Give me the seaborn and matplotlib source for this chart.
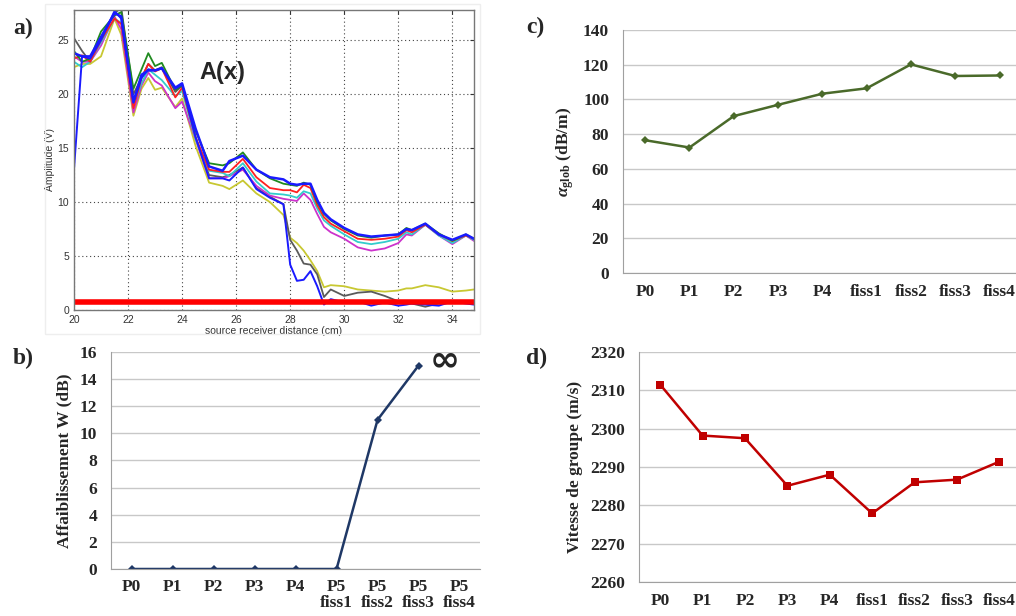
import numpy as np
import pandas as pd
import matplotlib
matplotlib.use('Agg')
import matplotlib.pyplot as plt
import seaborn as sns
from matplotlib.patches import Rectangle

# ---- panel a) : amplitude vs source-receiver distance ----
dist_cm = [20.0, 20.3, 20.6, 21.0, 21.5, 21.75, 22.2, 22.5, 22.75, 23.0,
           23.25, 23.75, 24.0, 24.5, 25.0, 25.5, 25.75, 26.25, 26.75, 27.25,
           27.75, 28.0, 28.25, 28.5, 28.75, 29.0, 29.25, 29.5, 30.0, 30.5,
           31.0, 31.5, 32.0, 32.3, 32.5, 33.0, 33.5, 34.0, 34.5, 34.8]

amp_green = [24.0, 23.0, 23.3, 25.8, 27.3, 27.6, 20.5, 22.3, 23.8, 22.6,
             22.9, 20.4, 20.8, 16.6, 13.6, 13.4, 13.6, 14.6, 13.0, 12.2,
             11.7, 11.6, 11.5, 11.8, 11.6, 10.0, 8.9, 8.3, 7.5, 6.9,
             6.7, 6.9, 7.0, 7.6, 7.4, 8.0, 7.1, 6.4, 7.0, 6.6]
amp_blue = [23.8, 23.5, 23.5, 25.3, 27.5, 27.2, 19.3, 21.8, 22.2, 22.2,
            22.4, 20.6, 21.0, 16.8, 13.3, 12.9, 13.8, 14.3, 13.0, 12.3,
            12.1, 11.7, 11.6, 11.7, 11.7, 10.2, 9.0, 8.4, 7.6, 7.0,
            6.8, 6.9, 7.0, 7.5, 7.4, 8.0, 7.0, 6.5, 7.0, 6.6]
amp_red = [23.3, 23.6, 23.0, 25.0, 27.0, 26.5, 18.7, 21.5, 22.8, 22.1,
           22.4, 19.7, 20.6, 16.0, 13.0, 12.8, 12.8, 14.0, 12.3, 11.3,
           11.1, 11.1, 10.9, 11.6, 11.3, 9.7, 8.6, 8.0, 7.3, 6.6,
           6.5, 6.6, 6.8, 7.4, 7.2, 7.9, 7.0, 6.4, 6.9, 6.6]
amp_cyan = [23.0, 22.5, 23.0, 24.8, 27.0, 26.6, 18.9, 21.0, 22.3, 21.8,
            21.3, 19.8, 20.3, 15.8, 12.9, 12.7, 12.4, 13.6, 11.9, 10.8,
            10.7, 10.6, 10.4, 11.0, 10.8, 9.4, 8.3, 7.8, 7.0, 6.3,
            6.1, 6.3, 6.6, 7.2, 7.0, 7.9, 6.9, 6.2, 6.9, 6.5]
amp_magenta = [23.5, 23.0, 23.0, 24.5, 27.2, 26.0, 18.3, 20.8, 22.0, 21.2,
               20.8, 18.7, 19.3, 15.8, 12.2, 12.2, 12.4, 13.0, 11.5, 10.6,
               10.3, 10.2, 10.1, 10.8, 10.2, 8.9, 7.7, 7.2, 6.6, 5.8,
               5.5, 5.7, 6.2, 7.0, 6.9, 7.9, 6.9, 6.1, 6.9, 6.4]
amp_yellow = [22.5, 22.8, 22.8, 23.5, 27.0, 25.5, 18.0, 20.5, 21.5, 20.4,
              20.6, 18.8, 19.6, 15.2, 11.8, 11.5, 11.2, 12.0, 10.8, 10.0,
              8.8, 6.7, 6.2, 5.5, 4.6, 3.6, 2.1, 2.3, 2.2, 1.9,
              1.8, 1.7, 1.8, 2.0, 2.0, 2.3, 2.1, 1.7, 1.8, 1.9]
amp_gray = [25.2, 24.0, 23.0, 25.0, 27.5, 28.0, 20.0, 21.5, 22.8, 22.2,
            22.5, 20.2, 20.8, 16.0, 12.5, 12.3, 12.5, 13.2, 11.3, 10.5,
            9.8, 6.5, 5.5, 4.3, 4.2, 3.3, 1.2, 1.9, 1.3, 1.6,
            1.7, 1.3, 0.8, 0.7, 0.6, 0.3, 0.6, 0.8, 0.8, 0.8]
amp_blue_drop = [13.0, 23.5, 23.3, 25.0, 27.7, 27.0, 19.2, 21.5, 22.3, 22.2,
                 22.4, 20.5, 20.9, 16.0, 12.2, 12.2, 12.0, 13.2, 11.2, 10.4,
                 9.8, 4.2, 2.7, 2.8, 3.6, 2.2, 0.5, 1.0, 0.7, 0.8,
                 0.4, 0.7, 0.4, 0.5, 0.6, 0.5, 0.4, 0.8, 0.6, 0.5]
threshold_v = 0.75

# ---- panels b), c), d) ----
states = ['P0', 'P1', 'P2', 'P3', 'P4', 'fiss1', 'fiss2', 'fiss3', 'fiss4']
states_b = ['P0', 'P1', 'P2', 'P3', 'P4', 'P5\nfiss1', 'P5\nfiss2', 'P5\nfiss3', 'P5\nfiss4']
affaib_w = [0, 0, 0, 0, 0, 0, 11.0, 15.0, np.nan]
alpha_glob = [76.5, 72.3, 90.4, 96.9, 103.3, 106.4, 120.2, 113.5, 113.8]
vitesse = [2311.5, 2298.2, 2297.5, 2285.1, 2288.0, 2277.9, 2286.0, 2286.7, 2291.4]

sns.set_style('white')
plt.rcParams['font.family'] = ['Liberation Serif', 'DejaVu Serif']
plt.rcParams['mathtext.fontset'] = 'custom'
plt.rcParams['mathtext.rm'] = 'Liberation Serif:bold'
plt.rcParams['mathtext.bf'] = 'Liberation Serif:bold'
plt.rcParams['mathtext.it'] = 'Liberation Serif:italic:bold'

fig = plt.figure(figsize=(10.16, 6.16), dpi=100)

# ---------- a) ----------
# light frame around the matlab-style figure
fig.patches.append(Rectangle((0.044, 0.458), 0.428, 0.535, transform=fig.transFigure,
                             fill=False, edgecolor='#eeeeee', linewidth=1))
ax_a = fig.add_axes([0.0728, 0.4968, 0.3937, 0.487])
curves = [
    (amp_yellow, '#c8c832', 1.3),
    (amp_gray, '#5a5a5a', 1.3),
    (amp_magenta, '#cc33cc', 1.3),
    (amp_cyan, '#33cccc', 1.3),
    (amp_red, '#ff2020', 1.3),
    (amp_green, '#1f8a1f', 1.3),
    (amp_blue_drop, '#1a1aff', 1.4),
    (amp_blue, '#1a1aff', 1.8),
]
for vals, col, lw in curves:
    sns.lineplot(x=dist_cm, y=vals, ax=ax_a, color=col, linewidth=lw,
                 estimator=None, sort=False)
ax_a.axhline(threshold_v, color='#ff0000', linewidth=4)
ax_a.set_xlim(20, 34.8)
ax_a.set_ylim(0, 27.8)
ax_a.set_xticks(np.arange(20, 35, 2))
ax_a.set_yticks(np.arange(0, 26, 5))
ax_a.grid(True, color='#444444', linestyle=(0, (1, 2.5)), linewidth=0.8)
ax_a.tick_params(labelsize=7.5, colors='#333333', direction='in', length=3,
                 top=True, right=True)
for lab in ax_a.get_xticklabels() + ax_a.get_yticklabels():
    lab.set_family('Liberation Sans')
for sp in ax_a.spines.values():
    sp.set_color('#777777')
    sp.set_linewidth(1.0)
ax_a.set_xlabel('source receiver distance (cm)', fontsize=7.5, color='#333333',
                family='Liberation Sans', labelpad=1)
ax_a.set_ylabel('Amplitude (V)', fontsize=7.5, color='#333333',
                family='Liberation Sans', labelpad=2)
ax_a.text(25.5, 22.0, 'A(x)', fontsize=17, fontweight='bold',
          family='Liberation Sans', ha='center', va='center')


def excel_axes(ax, labels, ylim, yticks):
    ax.set_xlim(-0.5, len(labels) - 0.5)
    ax.set_ylim(*ylim)
    ax.set_yticks(yticks)
    ax.set_xticks(range(len(labels)))
    ax.set_xticklabels(labels)
    ax.set_xticks(np.arange(-0.5, len(labels), 1.0), minor=True)
    ax.tick_params(axis='x', which='major', length=0, pad=8)
    ax.tick_params(axis='x', which='minor', length=5, direction='out',
                   color='#a0a0a0', width=1)
    ax.tick_params(axis='y', length=5, direction='out', color='#a0a0a0', pad=5)
    ax.tick_params(labelsize=12.5)
    for lab in ax.get_xticklabels() + ax.get_yticklabels():
        lab.set_fontweight('bold')
    ax.grid(True, axis='y', color='#c8c8c8', linewidth=1)
    ax.grid(False, axis='x')
    sns.despine(ax=ax)
    ax.spines['left'].set_color('#a0a0a0')
    ax.spines['bottom'].set_color('#a0a0a0')
    ax.set_axisbelow(True)


pos = list(range(len(states)))

# ---------- b) ----------
ax_b = fig.add_axes([0.1093, 0.0763, 0.3632, 0.3523])
sns.lineplot(x=pos, y=affaib_w, ax=ax_b, color='#1f3866', linewidth=1.8,
             marker='D', markersize=4, markeredgewidth=0, estimator=None)
excel_axes(ax_b, states_b, (0, 16), np.arange(0, 17, 2))
for lab in ax_b.get_xticklabels():
    lab.set_linespacing(1.05)
ax_b.tick_params(axis='x', which='major', pad=7)
ax_b.set_ylabel('Affaiblissement W (dB)', fontsize=12.5, fontweight='bold', labelpad=5)
ax_b.text(7.65, 15.4, '\u221e', fontsize=26, fontweight='bold', ha='center',
          va='center', family='DejaVu Sans')

# ---------- c) ----------
ax_c = fig.add_axes([0.6132, 0.5568, 0.3924, 0.3945])
sns.lineplot(x=pos, y=alpha_glob, ax=ax_c, color='#4a6a2a', linewidth=1.8,
             marker='D', markersize=4.5, markeredgewidth=0, estimator=None)
excel_axes(ax_c, states, (0, 140), np.arange(0, 141, 20))
ax_c.set_ylabel(r'$\alpha_{\mathrm{glob}}$ (dB/m)', fontsize=12.5, fontweight='bold',
                labelpad=5)

# ---------- d) ----------
ax_d = fig.add_axes([0.6289, 0.0552, 0.3756, 0.3734])
sns.lineplot(x=pos, y=vitesse, ax=ax_d, color='#c00000', linewidth=1.8,
             marker='s', markersize=5.5, markeredgewidth=0, estimator=None)
excel_axes(ax_d, states, (2260, 2320), np.arange(2260, 2321, 10))
ax_d.set_ylabel('Vitesse de groupe (m/s)', fontsize=12.5, fontweight='bold', labelpad=5)

# panel letters
for x, y, t in [(0.013, 0.953, 'a)'), (0.013, 0.418, 'b)'),
                (0.518, 0.955, 'c)'), (0.518, 0.418, 'd)')]:
    fig.text(x, y, t, fontsize=17, fontweight='bold', va='center')

fig.savefig('out.png', dpi=100)
